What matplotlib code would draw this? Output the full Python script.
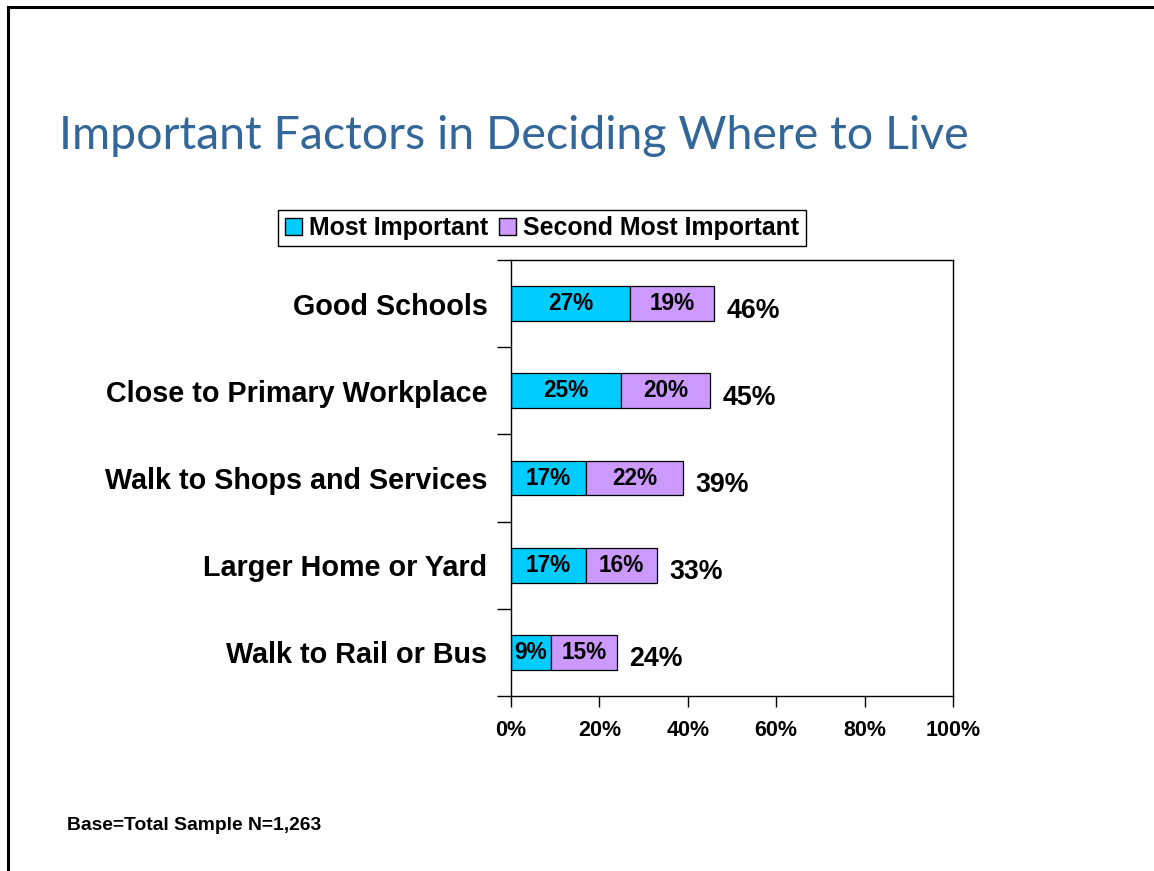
import matplotlib
matplotlib.use("Agg")
import matplotlib.pyplot as plt
from matplotlib.lines import Line2D
from matplotlib.patches import Patch
from matplotlib.ticker import FuncFormatter

# survey results, percent of respondents
factors = ["Good Schools", "Close to Primary Workplace", "Walk to Shops and Services",
           "Larger Home or Yard", "Walk to Rail or Bus"]
most_important = [27, 25, 17, 17, 9]
second_important = [19, 20, 22, 16, 15]
totals = [46, 45, 39, 33, 24]

CYAN = "#00CCFF"
LILAC = "#CC99FF"
FONT = ["Liberation Sans", "DejaVu Sans"]

fig = plt.figure(figsize=(11.54, 8.71), dpi=100)
fig.patch.set_facecolor("white")

# slide frame (left and top edges)
fig.add_artist(Line2D([0.0065, 0.0065], [0, 0.9925], color="black", lw=2.2,
                      transform=fig.transFigure))
fig.add_artist(Line2D([0.0065, 1.0], [0.9925, 0.9925], color="black", lw=2.2,
                      transform=fig.transFigure))

fig.text(0.051, 0.829, "Important Factors in Deciding Where to Live",
         fontsize=33.5, color="#336699", family=["Lato", "DejaVu Sans"],
         ha="left", va="baseline")

ax = fig.add_axes([0.4428, 0.2009, 0.383, 0.5006])
y = list(range(len(factors)))
ax.barh(y, most_important, height=0.4, color=CYAN, edgecolor="black", linewidth=0.9)
ax.barh(y, second_important, left=most_important, height=0.4, color=LILAC,
        edgecolor="black", linewidth=0.9)

for i in y:
    ax.text(most_important[i] / 2, i, f"{most_important[i]}%", ha="center", va="center",
            fontsize=16.3, fontweight="bold", family=FONT)
    ax.text(most_important[i] + second_important[i] / 2, i, f"{second_important[i]}%",
            ha="center", va="center", fontsize=16.3, fontweight="bold", family=FONT)
    ax.text(totals[i] + 2.8, i + 0.08, f"{totals[i]}%", ha="left", va="center",
            fontsize=19.3, fontweight="bold", family=FONT)

ax.set_xlim(0, 100)
ax.set_ylim(len(factors) - 0.5, -0.5)
ax.set_xticks([0, 20, 40, 60, 80, 100])
ax.xaxis.set_major_formatter(FuncFormatter(lambda v, p: f"{v:.0f}%"))
ax.set_yticks([i - 0.5 for i in range(len(factors) + 1)])
ax.set_yticklabels([])
ax.set_yticks(y, minor=True)
ax.set_yticklabels(factors, minor=True)
ax.tick_params(axis="y", which="minor", length=0, pad=17)
ax.tick_params(axis="y", which="major", direction="out", length=10, width=1)
ax.tick_params(axis="x", direction="out", length=8, width=1, pad=9)
for lab in ax.get_yticklabels(minor=True):
    lab.set_fontsize(20.7)
    lab.set_fontweight("bold")
    lab.set_family(FONT)
for lab in ax.get_xticklabels():
    lab.set_fontsize(15.5)
    lab.set_fontweight("bold")
    lab.set_family(FONT)
for s in ax.spines.values():
    s.set_linewidth(1)

handles = [Patch(facecolor=CYAN, edgecolor="black", label="Most Important"),
           Patch(facecolor=LILAC, edgecolor="black", label="Second Most Important")]
fig.legend(handles=handles, loc="center", bbox_to_anchor=(0.4697, 0.7383), ncol=2,
           frameon=True, fancybox=False, edgecolor="black", framealpha=1,
           prop={"family": FONT, "weight": "bold", "size": 17.9},
           handlelength=0.7, handleheight=0.7, handletextpad=0.3, columnspacing=0.4,
           borderpad=0.25, borderaxespad=0)

fig.text(0.058, 0.047, "Base=Total Sample N=1,263", fontsize=13.9, fontweight="bold",
         family=FONT, ha="left", va="baseline")

fig.savefig("out.png", dpi=100)
